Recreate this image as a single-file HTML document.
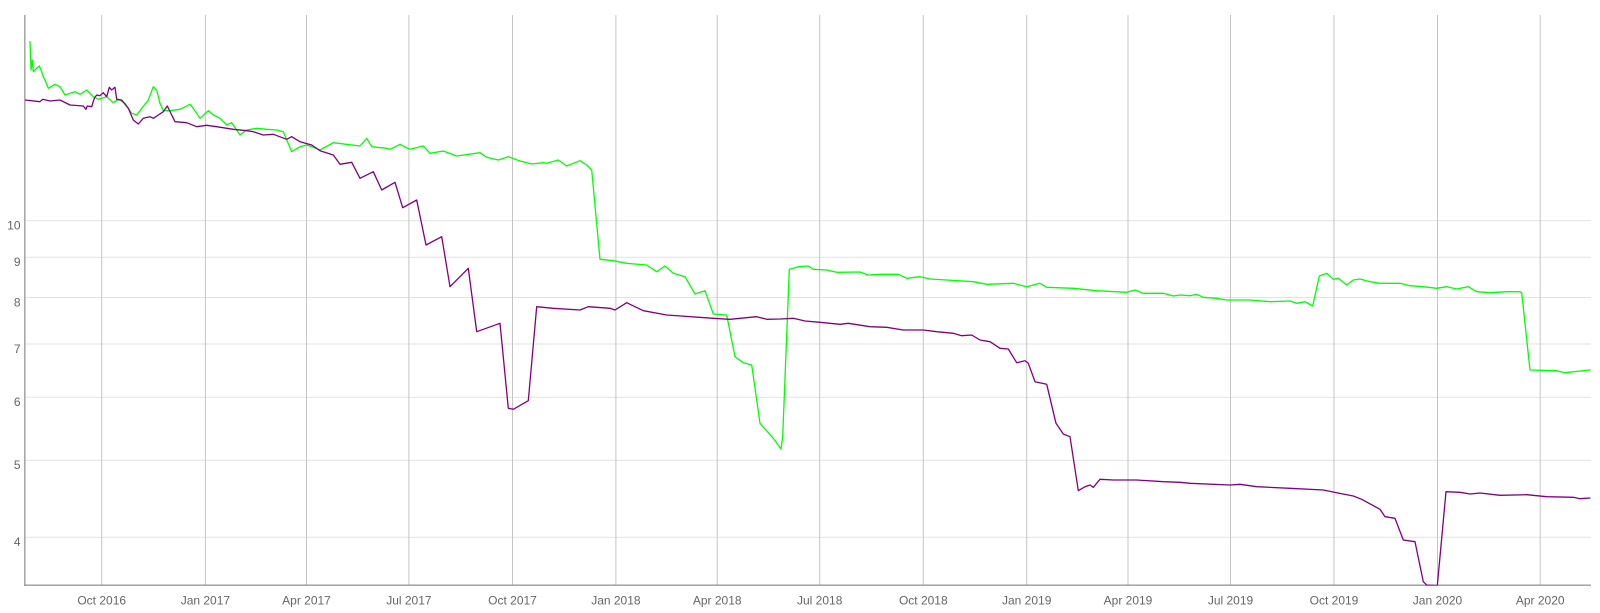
<!DOCTYPE html>
<html>
<head>
<meta charset="utf-8">
<style>
html,body{margin:0;padding:0;background:#fff;}
svg{display:block;}
text{font-family:"Liberation Sans",Arial,sans-serif;font-size:12px;fill:#666;}
</style>
</head>
<body>
<svg width="1600" height="613" viewBox="0 0 1600 613" xmlns="http://www.w3.org/2000/svg">
<defs>
<clipPath id="plot"><rect x="25" y="15" width="1566" height="570.5"/></clipPath>
</defs>
<rect width="1600" height="613" fill="#fff"/>
<!-- horizontal gridlines -->
<g stroke="#e2e2e2" stroke-width="1">
<line x1="25" y1="220.7" x2="1591" y2="220.7"/>
<line x1="25" y1="257.3" x2="1591" y2="257.3"/>
<line x1="25" y1="297.5" x2="1591" y2="297.5"/>
<line x1="25" y1="344" x2="1591" y2="344"/>
<line x1="25" y1="397.3" x2="1591" y2="397.3"/>
<line x1="25" y1="460.2" x2="1591" y2="460.2"/>
<line x1="25" y1="537.3" x2="1591" y2="537.3"/>
</g>
<!-- vertical gridlines -->
<g stroke="#c4c4c4" stroke-width="1">
<line x1="101.7" y1="15" x2="101.7" y2="585"/>
<line x1="205.4" y1="15" x2="205.4" y2="585"/>
<line x1="306.5" y1="15" x2="306.5" y2="585"/>
<line x1="408.9" y1="15" x2="408.9" y2="585"/>
<line x1="512.5" y1="15" x2="512.5" y2="585"/>
<line x1="615.9" y1="15" x2="615.9" y2="585"/>
<line x1="717.2" y1="15" x2="717.2" y2="585"/>
<line x1="819.7" y1="15" x2="819.7" y2="585"/>
<line x1="923.3" y1="15" x2="923.3" y2="585"/>
<line x1="1026.7" y1="15" x2="1026.7" y2="585"/>
<line x1="1128" y1="15" x2="1128" y2="585"/>
<line x1="1230.5" y1="15" x2="1230.5" y2="585"/>
<line x1="1334" y1="15" x2="1334" y2="585"/>
<line x1="1437.5" y1="15" x2="1437.5" y2="585"/>
<line x1="1540.2" y1="15" x2="1540.2" y2="585"/>
</g>
<!-- axes -->
<line x1="24.8" y1="15" x2="24.8" y2="586" stroke="#a8a8a8" stroke-width="1.6"/>
<line x1="24" y1="585.2" x2="1591" y2="585.2" stroke="#999" stroke-width="1.4"/>
<!-- y labels -->
<g text-anchor="end">
<text x="20.5" y="229.5">10</text>
<text x="20.5" y="266.2">9</text>
<text x="20.5" y="306.4">8</text>
<text x="20.5" y="352.9">7</text>
<text x="20.5" y="406.2">6</text>
<text x="20.5" y="469.1">5</text>
<text x="20.5" y="546.2">4</text>
</g>
<!-- x labels -->
<g text-anchor="middle">
<text x="101.7" y="604.5">Oct 2016</text>
<text x="205.4" y="604.5">Jan 2017</text>
<text x="306.5" y="604.5">Apr 2017</text>
<text x="408.9" y="604.5">Jul 2017</text>
<text x="512.5" y="604.5">Oct 2017</text>
<text x="615.9" y="604.5">Jan 2018</text>
<text x="717.2" y="604.5">Apr 2018</text>
<text x="819.7" y="604.5">Jul 2018</text>
<text x="923.3" y="604.5">Oct 2018</text>
<text x="1026.7" y="604.5">Jan 2019</text>
<text x="1128" y="604.5">Apr 2019</text>
<text x="1230.5" y="604.5">Jul 2019</text>
<text x="1334" y="604.5">Oct 2019</text>
<text x="1437.5" y="604.5">Jan 2020</text>
<text x="1540.2" y="604.5">Apr 2020</text>
</g>
<g clip-path="url(#plot)" fill="none" stroke-linejoin="round" stroke-linecap="round">
<polyline stroke="#00ff00" stroke-width="1.3" points="30,41.7 31,70 32.3,60 33.3,71.7 36.7,68.3 39.3,66 41.7,71.7 43.3,76.7 45,80 48.3,88.3 55,84.3 60,86.7 65,95 71.7,92.7 75,91.7 80,94.3 86.7,90 93.3,96.7 98.3,99.3 106.7,96.7 113.3,102.7 118.3,99.3 125,103.3 131.7,113.3 136.7,115 141.7,108.3 148.3,100 153.3,86.7 156.7,90 160,103.3 163.3,110.7 170,110.7 180,109.3 190,104.3 193.3,108.3 200,118.3 208.3,110.7 213.3,115 220,118.3 226.7,125 231.7,122.7 240,135 246.7,130 256.7,128.3 266.7,129.3 276.7,130 283.3,131.7 291.7,151.7 300,146.7 306.7,145 311.7,146.7 320,150 333.3,142.7 360,146 366.7,138.3 371.7,146.7 386.7,148.3 390,149.3 400,144.3 410,149.3 423.3,146 430,153.3 443.3,151 456.7,156 480,152.7 486.7,157.3 498.3,160 508.3,156.7 520,161 531.7,164 543.3,162.7 546.7,163.3 558.3,160 566.7,166 580,160.7 586.7,165 591.7,170 600,259.3 613.3,260.7 626.7,263.3 646.7,265 656.7,271.7 665,266 673.3,273.3 685,276.7 695,294 705,290.7 713.3,314 726.7,315 735,356.7 743.3,362.7 751.7,365 760,423.3 773.3,438.3 781,449 782.7,436.7 789.3,269.3 793.3,268.3 798.3,266.7 808.3,266 813.3,269.3 826.7,270 836.7,272.3 860,272 868.3,275 880,274.3 898.3,274.3 906.7,278.3 920,276.7 930,279 946.7,280 973.3,281.7 986.7,284.3 1013.3,283.3 1026.7,286.7 1040,283.3 1046.7,287.3 1073.3,288.3 1096.7,290.7 1126.7,292.3 1135,290 1143.3,293.3 1163.3,293.3 1173.3,296 1180,295 1190,295.7 1196.7,294.3 1203.3,297.3 1216.7,298.3 1226.7,300 1250,300 1270,301.7 1290,301 1296.7,303.3 1305,301.7 1312.7,306 1319.3,276 1326.7,273.3 1333.3,279.3 1338.3,278.3 1346.7,285 1353.3,280 1360,279 1370,281.7 1380,283.3 1400,283.3 1410,285.7 1423.3,286.7 1436.7,288.3 1446.7,286.7 1456.7,289 1468.3,286.7 1476.7,291.7 1490,292.7 1506.7,291.7 1520,291.7 1521.7,292.7 1530,370 1556.7,370.7 1565,372.7 1590,370"/>
<polyline stroke="#800080" stroke-width="1.3" points="25,100 40,101.7 42.7,99.3 50,101 60,100 70,105 83.3,106 86,109.3 87.3,106 91.7,106.7 94.3,98.3 96.7,95 100,95.7 103.3,92.7 106.7,96.7 109.3,87.3 111.7,90 115,87.3 116.7,99.3 121.7,100 128.3,108.3 133.3,120 138.3,124 143.3,118.3 150,116.7 153.3,118.3 158.3,115 163.3,111.7 167.3,106 175,121.7 186.7,122.7 196.7,126.7 206.7,125.3 216.7,126.7 233.3,129.3 246.7,130.7 253.3,131.7 263.3,135 273.3,134.3 286.7,139.3 291.7,136.7 300,141.7 311.7,145 320,150.7 333.3,155 340,164.3 351.7,162.3 360,178.3 373.3,171.7 381.7,190 395,182.3 402.7,207.7 416.7,200 426,245 441.7,236.7 450,286.7 468.3,268.3 476.7,331.7 500,323.3 508.3,408.3 513.3,409.3 528.3,400.7 536.7,306.7 553,308.3 580,310 588.3,306.7 610,308.3 615,310 626.7,302.7 643.3,310.7 666.7,315 713.3,318.3 730,319.3 756.7,316.7 766.7,319.3 780,319 793.3,318.3 805,321 820,322.3 840,324.3 848.3,323.3 870,326.7 886.7,327.3 903.3,330 923.3,330 936.7,331.7 953.3,333.3 961.7,335.7 971.7,335 980,340 990,341.7 1000,348.3 1008.3,349 1016.7,362.7 1025,360.7 1028.3,363.3 1035,381.7 1046.7,384.3 1056,423.3 1063.3,434 1070,436.7 1078.3,490.7 1085,486.7 1090,485 1093.3,487.3 1100,479.3 1113.3,480 1136.7,480 1163.3,481.7 1180,482.3 1190,483.3 1230,485 1240,484.3 1256.7,486.7 1290,488.3 1323.3,490 1336.7,492.7 1353.3,496 1361.7,499.3 1380,509.3 1385,516.7 1395,518.3 1403.3,540 1415,541.7 1423.3,581.7 1426.7,585 1437.3,585.7 1446,491.7 1460,492.3 1470,494 1480,493 1500,495.3 1526.7,494.7 1546.7,496.7 1573.3,497.3 1580,498.7 1590,498"/>
</g>
</svg>
</body>
</html>
